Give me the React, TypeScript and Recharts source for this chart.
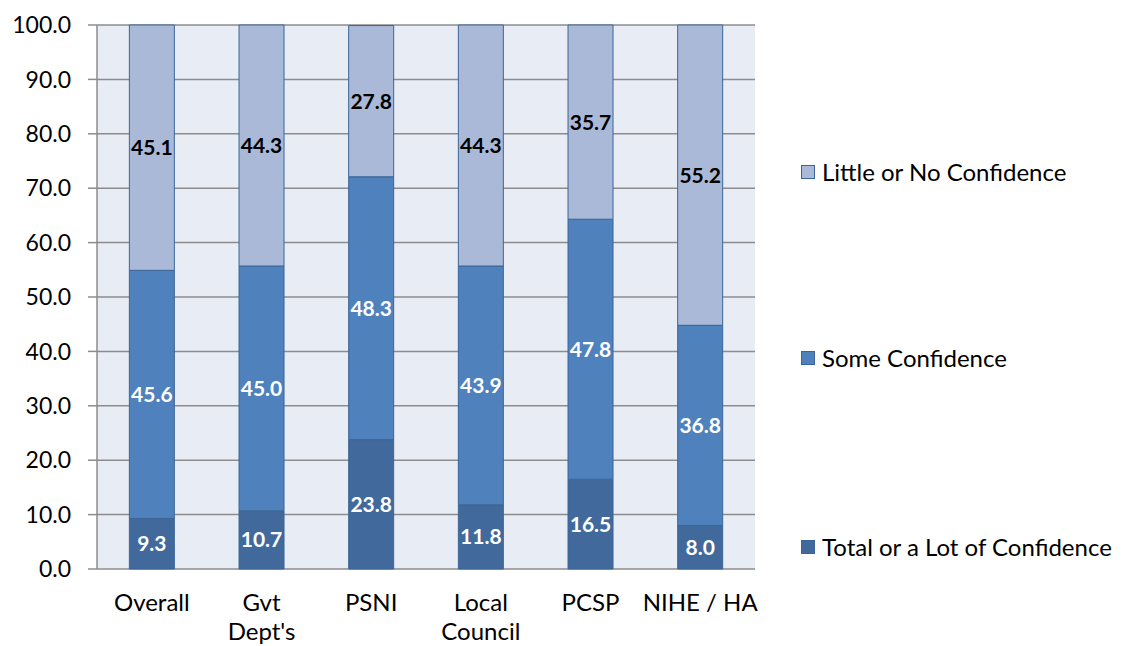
import React from 'react'
import { BarChart, Bar, XAxis, YAxis, CartesianGrid, Legend, LabelList } from 'recharts'

const categories = ['Overall', "Gvt\nDept's", 'PSNI', 'Local\nCouncil', 'PCSP', 'NIHE / HA']
const totalConfidence = [9.3, 10.7, 23.8, 11.8, 16.5, 8.0]
const someConfidence = [45.6, 45.0, 48.3, 43.9, 47.8, 36.8]
const littleConfidence = [45.1, 44.3, 27.8, 44.3, 35.7, 55.2]
const yTicks = [0, 10, 20, 30, 40, 50, 60, 70, 80, 90, 100]
const boundaryTicks = [0, 1, 2, 3, 4, 5, 6]

const data = categories.map((name, i) => ({
  name,
  total: totalConfidence[i],
  some: someConfidence[i],
  little: littleConfidence[i],
}))

const FONT = 'Lato, "Open Sans", sans-serif'
const BORDER = '#3b6699'
const GRID = '#8c8c8c'

const CategoryTick = (props: any) => {
  const { x, y, payload } = props
  const lines = String(payload.value).split('\n')
  return (
    <text x={x} y={y} textAnchor="middle" fontSize={24} fontFamily={FONT} fill="#000">
      {lines.map((l, i) => (
        <tspan key={i} x={x} dy={i === 0 ? 42 : 29}>{l}</tspan>
      ))}
    </text>
  )
}

const LegendBox = () => {
  const items = [
    { label: 'Little or No Confidence', color: '#a9b9d7', top: 157 },
    { label: 'Some Confidence', color: '#4f81bd', top: 343 },
    { label: 'Total or a Lot of Confidence', color: '#41699c', top: 532 },
  ]
  return (
    <div style={{ position: 'relative', width: 0, height: 0 }}>
      {items.map((it) => (
        <div key={it.label} style={{ position: 'absolute', left: 801, top: it.top, display: 'flex', alignItems: 'center', fontFamily: FONT, fontSize: 24, lineHeight: '30px', color: '#000', whiteSpace: 'nowrap' }}>
          <span style={{ display: 'inline-block', width: 12, height: 12, background: it.color, border: `1px solid ${BORDER}`, marginRight: 7 }} />
          <span>{it.label}</span>
        </div>
      ))}
    </div>
  )
}

const fmt = (v: any) => Number(v).toFixed(1)

export default function App() {
  return (
    <div style={{ position: 'absolute', left: 0, top: 0, width: 1123, height: 646, background: '#fff' }}>
      <BarChart
        width={1123}
        height={646}
        data={data}
        margin={{ top: 25, right: 368, bottom: 0, left: 0 }}
        barCategoryGap="29.5%"
      >
        <CartesianGrid vertical={false} stroke={GRID} strokeWidth={1.5} fill="#e8ecf5" />
        <XAxis
          xAxisId="bounds"
          type="number"
          domain={[0, 6]}
          ticks={boundaryTicks}
          allowDataOverflow
          height={0}
          tickSize={8}
          tickFormatter={() => ''}
          axisLine={{ stroke: GRID, strokeWidth: 1.5 }}
          tickLine={{ stroke: GRID, strokeWidth: 1.5 }}
        />
        <XAxis
          dataKey="name"
          height={77}
          axisLine={false}
          tickLine={false}
          tickSize={0}
          tickMargin={0}
          interval={0}
          tick={<CategoryTick />}
        />
        <YAxis
          width={97}
          domain={[0, 100]}
          ticks={yTicks}
          tickFormatter={(v: number) => v.toFixed(1)}
          tickSize={9}
          tickMargin={17}
          axisLine={{ stroke: GRID, strokeWidth: 1.5 }}
          tickLine={{ stroke: GRID, strokeWidth: 1.5 }}
          tick={{ fontSize: 23, fontFamily: FONT, fill: '#000' }}
        />
        <Legend content={<LegendBox />} wrapperStyle={{ position: 'absolute', left: 0, top: 0, width: 0, height: 0, overflow: 'visible' }} />
        <Bar dataKey="total" stackId="a" fill="#41699c" stroke={BORDER} strokeWidth={1} isAnimationActive={false}>
          <LabelList dataKey="total" position="center" formatter={fmt} fill="#fff" fontSize={21} fontWeight="bold" fontFamily={FONT} />
        </Bar>
        <Bar dataKey="some" stackId="a" fill="#4f81bd" stroke={BORDER} strokeWidth={1} isAnimationActive={false}>
          <LabelList dataKey="some" position="center" formatter={fmt} fill="#fff" fontSize={21} fontWeight="bold" fontFamily={FONT} />
        </Bar>
        <Bar dataKey="little" stackId="a" fill="#a9b9d7" stroke={BORDER} strokeWidth={1} isAnimationActive={false}>
          <LabelList dataKey="little" position="center" formatter={fmt} fill="#000" fontSize={21} fontWeight="bold" fontFamily={FONT} />
        </Bar>
      </BarChart>
    </div>
  )
}
